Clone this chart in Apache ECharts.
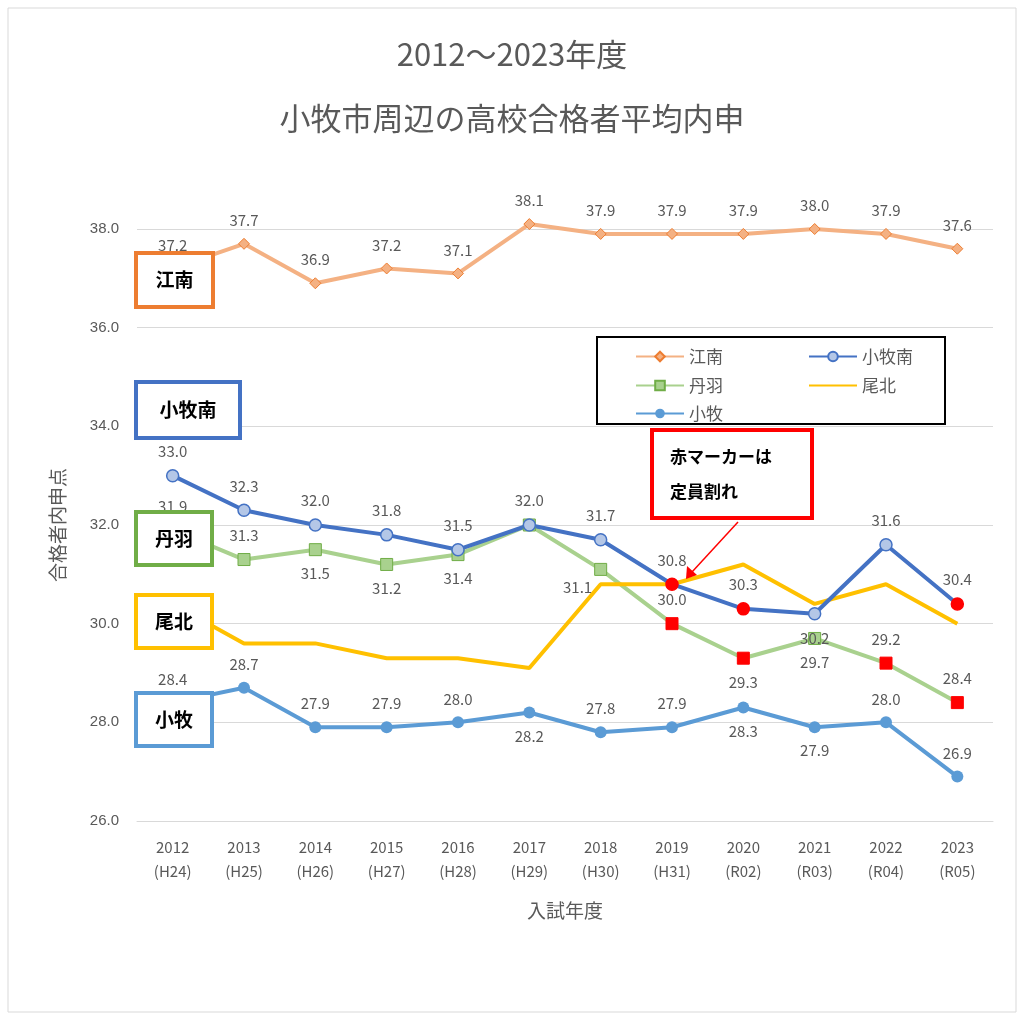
<!DOCTYPE html>
<html><head><meta charset="utf-8">
<script src="https://cdn.jsdelivr.net/npm/echarts@6/dist/echarts.min.js"></script>
<style>html,body{margin:0;padding:0;background:#fff}#c{width:1024px;height:1020px}</style>
</head><body><div id="c"></div>
<script>
const categories=['2012\n(H24)','2013\n(H25)','2014\n(H26)','2015\n(H27)','2016\n(H28)','2017\n(H29)','2018\n(H30)','2019\n(H31)','2020\n(R02)','2021\n(R03)','2022\n(R04)','2023\n(R05)'];
const konan=[37.2,37.7,36.9,37.2,37.1,38.1,37.9,37.9,37.9,38.0,37.9,37.6];
const komakiMinami=[33.0,32.3,32.0,31.8,31.5,32.0,31.7,30.8,30.3,30.2,31.6,30.4];
const niwa=[31.9,31.3,31.5,31.2,31.4,32.0,31.1,30.0,29.3,29.7,29.2,28.4];
const bihoku=[30.4,29.6,29.6,29.3,29.3,29.1,30.8,30.8,31.2,30.4,30.8,30.0];
const komaki=[28.4,28.7,27.9,27.9,28.0,28.2,27.8,27.9,28.3,27.9,28.0,26.9];
const redMinami=[7,8,11], redNiwa=[7,8,10,11];
const yTicks=[26,28,30,32,34,36,38];

const pos={
 konan:{},
 minami:{9:'bottom'},
 niwa:{2:'bottom',3:'bottom',4:'bottom',5:'none',6:'left',8:'bottom',9:'bottom'},
 bihoku:{6:'bottom',7:'none',11:'bottom'},
 komaki:{5:'bottom',8:'bottom',9:'bottom'}
};
function build(vals,key,red){
 return vals.map((v,i)=>{
  const o={value:v};
  const p=pos[key][i];
  if(p==='none') o.label={show:false};
  else if(p==='left') o.label={position:'left',distance:2,offset:[0,18]};
  else if(p==='bottom') o.label={position:'bottom',distance:10};
  if(key==='bihoku'&&i===11) o.label={position:'bottom',distance:10,offset:[18,0]};
  if(red&&red.includes(i)) o.itemStyle={color:'#ff0000',borderColor:'#ff0000'};
  return o;
 });
}
const lab={show:true,position:'top',distance:10,color:'#595959',fontSize:15,fontFamily:'Noto Sans CJK JP',formatter:p=>p.value.toFixed(1)};
function ser(name,data,color,symbol,size,extra){
 return Object.assign({name,type:'line',data,clip:false,symbol,symbolSize:size,
  lineStyle:{color,width:4},itemStyle:{color},label:lab,z:2},extra||{});
}
const chart=echarts.init(document.getElementById('c'));
const legFont={color:'#595959',fontSize:17,fontFamily:'Noto Sans CJK JP'};
function leg(name,left,top){return {data:[name],left,top,itemWidth:48,itemHeight:12,textStyle:legFont};}
function box(x,y,w,h,color,text){
 return {type:'group',zlevel:1,z:100,children:[
  {type:'rect',zlevel:1,shape:{x,y,width:w,height:h},style:{fill:'#fff',stroke:color,lineWidth:4}},
  {type:'text',zlevel:1,style:{x:x+w/2,y:y+h/2,text,fill:'#000',font:'bold 19px "Noto Sans CJK JP"',align:'center',verticalAlign:'middle'}}]};
}
chart.setOption({
 animation:false,
 title:{text:'2012～2023年度\n\n小牧市周辺の高校合格者平均内申',left:'center',top:33,
  textStyle:{color:'#595959',fontSize:31,fontWeight:'normal',fontFamily:'Noto Sans CJK JP',lineHeight:32}},
 grid:{left:137,right:31,top:229,bottom:199},
 legend:[leg('江南',630,343),leg('小牧南',803,343),leg('丹羽',630,372),leg('尾北',803,372),leg('小牧',630,400)],
 xAxis:{type:'category',data:categories,boundaryGap:true,
  axisLine:{lineStyle:{color:'#d9d9d9'}},axisTick:{show:false},
  axisLabel:{color:'#595959',fontSize:15,lineHeight:24,margin:14,fontFamily:'Noto Sans CJK JP'},
  name:'入試年度',nameLocation:'middle',nameGap:80,nameTextStyle:{color:'#595959',fontSize:19,fontFamily:'Noto Sans CJK JP'}},
 yAxis:{type:'value',min:yTicks[0],max:yTicks[yTicks.length-1],interval:2,
  axisLine:{show:false},axisTick:{show:false},splitLine:{lineStyle:{color:'#d9d9d9'}},
  axisLabel:{color:'#595959',fontSize:15,margin:18,formatter:v=>v.toFixed(1)},
  name:'合格者内申点',nameLocation:'middle',nameGap:70,nameRotate:90,
  nameTextStyle:{color:'#595959',fontSize:19,fontFamily:'Noto Sans CJK JP'}},
 series:[
  ser('江南',build(konan,'konan'),'#f4b183','diamond',11,{itemStyle:{color:'#f4b183',borderColor:'#ed7d31',borderWidth:1}}),
  ser('丹羽',build(niwa,'niwa',redNiwa),'#a9d18e','rect',12,{itemStyle:{color:'#a9d18e',borderColor:'#70ad47',borderWidth:1}}),
  ser('尾北',build(bihoku,'bihoku'),'#ffc000','circle',1,{itemStyle:{color:'#ffc000',opacity:0}}),
  ser('小牧南',build(komakiMinami,'minami',redMinami),'#4472c4','circle',12,{itemStyle:{color:'#b4c7e7',borderColor:'#4472c4',borderWidth:1.5}}),
  ser('小牧',build(komaki,'komaki'),'#5b9bd5','circle',12,{itemStyle:{color:'#5b9bd5'}})
 ],
 graphic:[
  {type:'rect',z:-10,shape:{x:8,y:8,width:1008,height:1004},style:{fill:'none',stroke:'#d9d9d9',lineWidth:1}},
  {type:'rect',z:50,shape:{x:597,y:337,width:348,height:87},style:{fill:'none',stroke:'#000',lineWidth:2}},
  box(136,253,77,54,'#ed7d31','江南'),
  box(136,382,104,56,'#4472c4','小牧南'),
  box(136,512,76,53,'#70ad47','丹羽'),
  box(136,595,76,53,'#ffc000','尾北'),
  box(136,693,76,53,'#5b9bd5','小牧'),
  {type:'group',zlevel:1,z:100,children:[
   {type:'rect',zlevel:1,shape:{x:652,y:430,width:160,height:88},style:{fill:'#fff',stroke:'#ff0000',lineWidth:4}},
   {type:'text',zlevel:1,style:{x:670,y:457,text:'赤マーカーは',fill:'#000',font:'bold 17px "Noto Sans CJK JP"',verticalAlign:'middle'}},
   {type:'text',zlevel:1,style:{x:670,y:492,text:'定員割れ',fill:'#000',font:'bold 17px "Noto Sans CJK JP"',verticalAlign:'middle'}},
   {type:'line',zlevel:1,shape:{x1:738,y1:522,x2:692,y2:572},style:{stroke:'#ff0000',lineWidth:1.5}},
   {type:'polygon',zlevel:1,shape:{points:[[686,579],[687,566],[697,575]]},style:{fill:'#ff0000'}}
  ]}
 ]
});
</script></body></html>
